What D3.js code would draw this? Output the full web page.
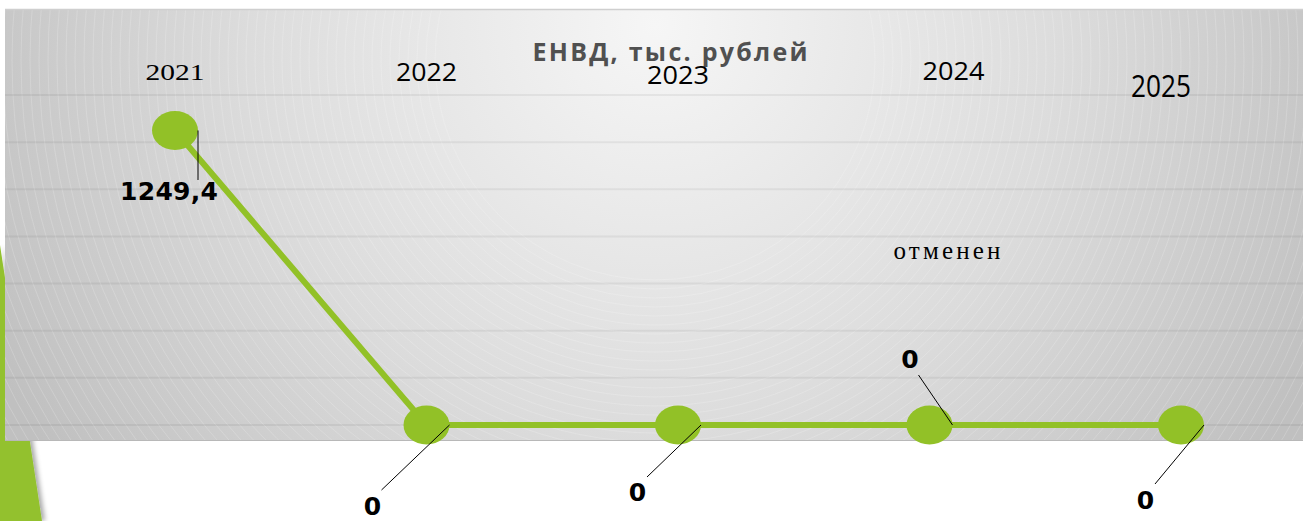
<!DOCTYPE html>
<html><head><meta charset="utf-8">
<script src="https://cdn.jsdelivr.net/npm/d3@7"></script>
<style>html,body{margin:0;padding:0;background:#fff;overflow:hidden}</style>
</head><body>
<svg id="c" width="1303" height="521"></svg>
<script>
// ---- data ----
const years = ["2021", "2022", "2023", "2024", "2025"];
const values = [1249.4, 0, 0, 0, 0];
const valueLabels = ["1249,4", "0", "0", "0", "0"];
const yTicks = [0, 200, 400, 600, 800, 1000, 1200, 1400];
const title = "ЕНВД, тыс. рублей";
const note = "отменен";

// ---- layout (manually placed label boxes, as in the original slide) ----
const yearLabelLayout = [
  {dx: 0,   y: 80, font: "Liberation Serif", size: 23, w: 59, weight: 400},
  {dx: 0,   y: 81, font: "Open Sans", size: 26, w: 61, weight: 400},
  {dx: 0,   y: 84, font: "Open Sans", size: 26, w: 62, weight: 400},
  {dx: 24,  y: 80, font: "Open Sans", size: 26, w: 62, weight: 400},
  {dx: -20, y: 97, font: "Open Sans", size: 31, w: 60, weight: 400}
];
const valueLabelLayout = [
  {dx: -6,    dy: 70, lx: 23, ly: 49.5, w: 98},
  {dx: -54,   dy: 90, lx: -45, ly: 65, w: 17},
  {dx: -40.5, dy: 76, lx: -31, ly: 52, w: 17},
  {dx: -19.5, dy: -57, lx: -11, ly: -50, w: 17},
  {dx: -35.5, dy: 84, lx: -26, ly: 59, w: 17}
];

const svg = d3.select("#c");
const W = 1303, H = 521;
const area = {x: 5, y: 9, w: 1298, h: 432};

const x = d3.scalePoint().domain(years).range([175, 1181]);
const y = d3.scaleLinear().domain([0, 1400]).range([425, 95]);

const defs = svg.append("defs");
const rg = defs.append("radialGradient").attr("id", "bg")
  .attr("gradientUnits", "userSpaceOnUse")
  .attr("cx", 655).attr("cy", 25).attr("r", 740);
rg.append("stop").attr("offset", "0").attr("stop-color", "#f6f6f6");
rg.append("stop").attr("offset", "0.55").attr("stop-color", "#dcdcdc");
rg.append("stop").attr("offset", "1").attr("stop-color", "#c0c0c0");
defs.append("clipPath").attr("id", "clip").append("rect")
  .attr("x", area.x).attr("y", area.y).attr("width", area.w).attr("height", area.h);
const fl = defs.append("filter").attr("id", "sh").attr("x", "-20%").attr("y", "-5%").attr("width", "160%").attr("height", "110%");
fl.append("feGaussianBlur").attr("in", "SourceAlpha").attr("stdDeviation", 2.5);
fl.append("feOffset").attr("dx", 3).attr("dy", 0).attr("result", "b");
fl.append("feComponentTransfer").append("feFuncA").attr("type", "linear").attr("slope", 0.35);
const fm = fl.append("feMerge");
fm.append("feMergeNode");
fm.append("feMergeNode").attr("in", "SourceGraphic");

// green decorative triangle on the left
svg.append("path")
  .attr("d", `M0,245 L42,${H} L0,${H} Z`)
  .attr("fill", "#93c12f").attr("filter", "url(#sh)");

// chart background
svg.append("rect")
  .attr("x", area.x).attr("y", area.y).attr("width", area.w).attr("height", area.h)
  .attr("fill", "url(#bg)");
// fine concentric texture arcs
const tex = svg.append("g").attr("clip-path", "url(#clip)");
tex.selectAll("circle").data(d3.range(220, 1000, 9)).join("circle")
  .attr("cx", 655).attr("cy", 60).attr("r", d => d)
  .attr("fill", "none").attr("stroke", "#ffffff").attr("stroke-opacity", 0.3).attr("stroke-width", 0.6);
svg.append("line").attr("x1", area.x).attr("x2", area.x + area.w)
  .attr("y1", area.y + 0.5).attr("y2", area.y + 0.5).attr("stroke", "#cfcfcf").attr("stroke-width", 1.5);
svg.append("line").attr("x1", area.x).attr("x2", area.x + area.w)
  .attr("y1", area.y + area.h - 0.5).attr("y2", area.y + area.h - 0.5).attr("stroke", "#b8b8b8").attr("stroke-width", 1);

// gridlines
svg.append("g").selectAll("line").data(yTicks).join("line")
  .attr("x1", area.x).attr("x2", area.x + area.w)
  .attr("y1", d => y(d)).attr("y2", d => y(d))
  .attr("stroke", "#000").attr("stroke-opacity", 0.055).attr("stroke-width", 2);

// title
svg.append("text")
  .attr("x", 670).attr("y", 61).attr("text-anchor", "middle")
  .attr("font-family", "Open Sans").attr("font-weight", 700).attr("font-size", 25)
  .attr("fill", "#505050")
  .attr("textLength", 275).attr("lengthAdjust", "spacing")
  .text(title);

// year labels
svg.append("g").selectAll("text").data(years).join("text")
  .attr("x", (d, i) => x(d) + yearLabelLayout[i].dx)
  .attr("y", (d, i) => yearLabelLayout[i].y)
  .attr("text-anchor", "middle")
  .attr("font-family", (d, i) => yearLabelLayout[i].font)
  .attr("font-size", (d, i) => yearLabelLayout[i].size)
  .attr("font-weight", (d, i) => yearLabelLayout[i].weight)
  .attr("textLength", (d, i) => yearLabelLayout[i].w)
  .attr("lengthAdjust", "spacingAndGlyphs")
  .attr("fill", "#000")
  .text(d => d);

// "отменен" note
svg.append("text")
  .attr("x", 947).attr("y", 259).attr("text-anchor", "middle")
  .attr("font-family", "Liberation Serif").attr("font-size", 25)
  .attr("textLength", 107).attr("lengthAdjust", "spacing")
  .attr("fill", "#000").text(note);

// line
const pts = years.map((d, i) => [x(d), y(values[i])]);
svg.append("path")
  .attr("d", d3.line()(pts))
  .attr("fill", "none").attr("stroke", "#92c127").attr("stroke-width", 6)
  .attr("stroke-linejoin", "round");

// markers
svg.append("g").selectAll("ellipse").data(pts).join("ellipse")
  .attr("cx", d => d[0]).attr("cy", d => d[1])
  .attr("rx", 23).attr("ry", 19.5)
  .attr("fill", "#92c127");

// leader lines
svg.append("g").selectAll("line").data(pts).join("line")
  .attr("x1", d => d[0] + 23).attr("y1", d => d[1])
  .attr("x2", (d, i) => d[0] + valueLabelLayout[i].lx)
  .attr("y2", (d, i) => d[1] + valueLabelLayout[i].ly)
  .attr("stroke", "#000").attr("stroke-width", 1);

// value labels
svg.append("g").selectAll("text").data(pts).join("text")
  .attr("x", (d, i) => d[0] + valueLabelLayout[i].dx)
  .attr("y", (d, i) => d[1] + valueLabelLayout[i].dy)
  .attr("text-anchor", "middle")
  .attr("font-family", "DejaVu Sans").attr("font-weight", 700).attr("font-size", 25)
  .attr("textLength", (d, i) => i === 0 ? valueLabelLayout[i].w : null)
  .attr("lengthAdjust", "spacing")
  .attr("fill", "#000")
  .text((d, i) => valueLabels[i]);
</script>
</body></html>
